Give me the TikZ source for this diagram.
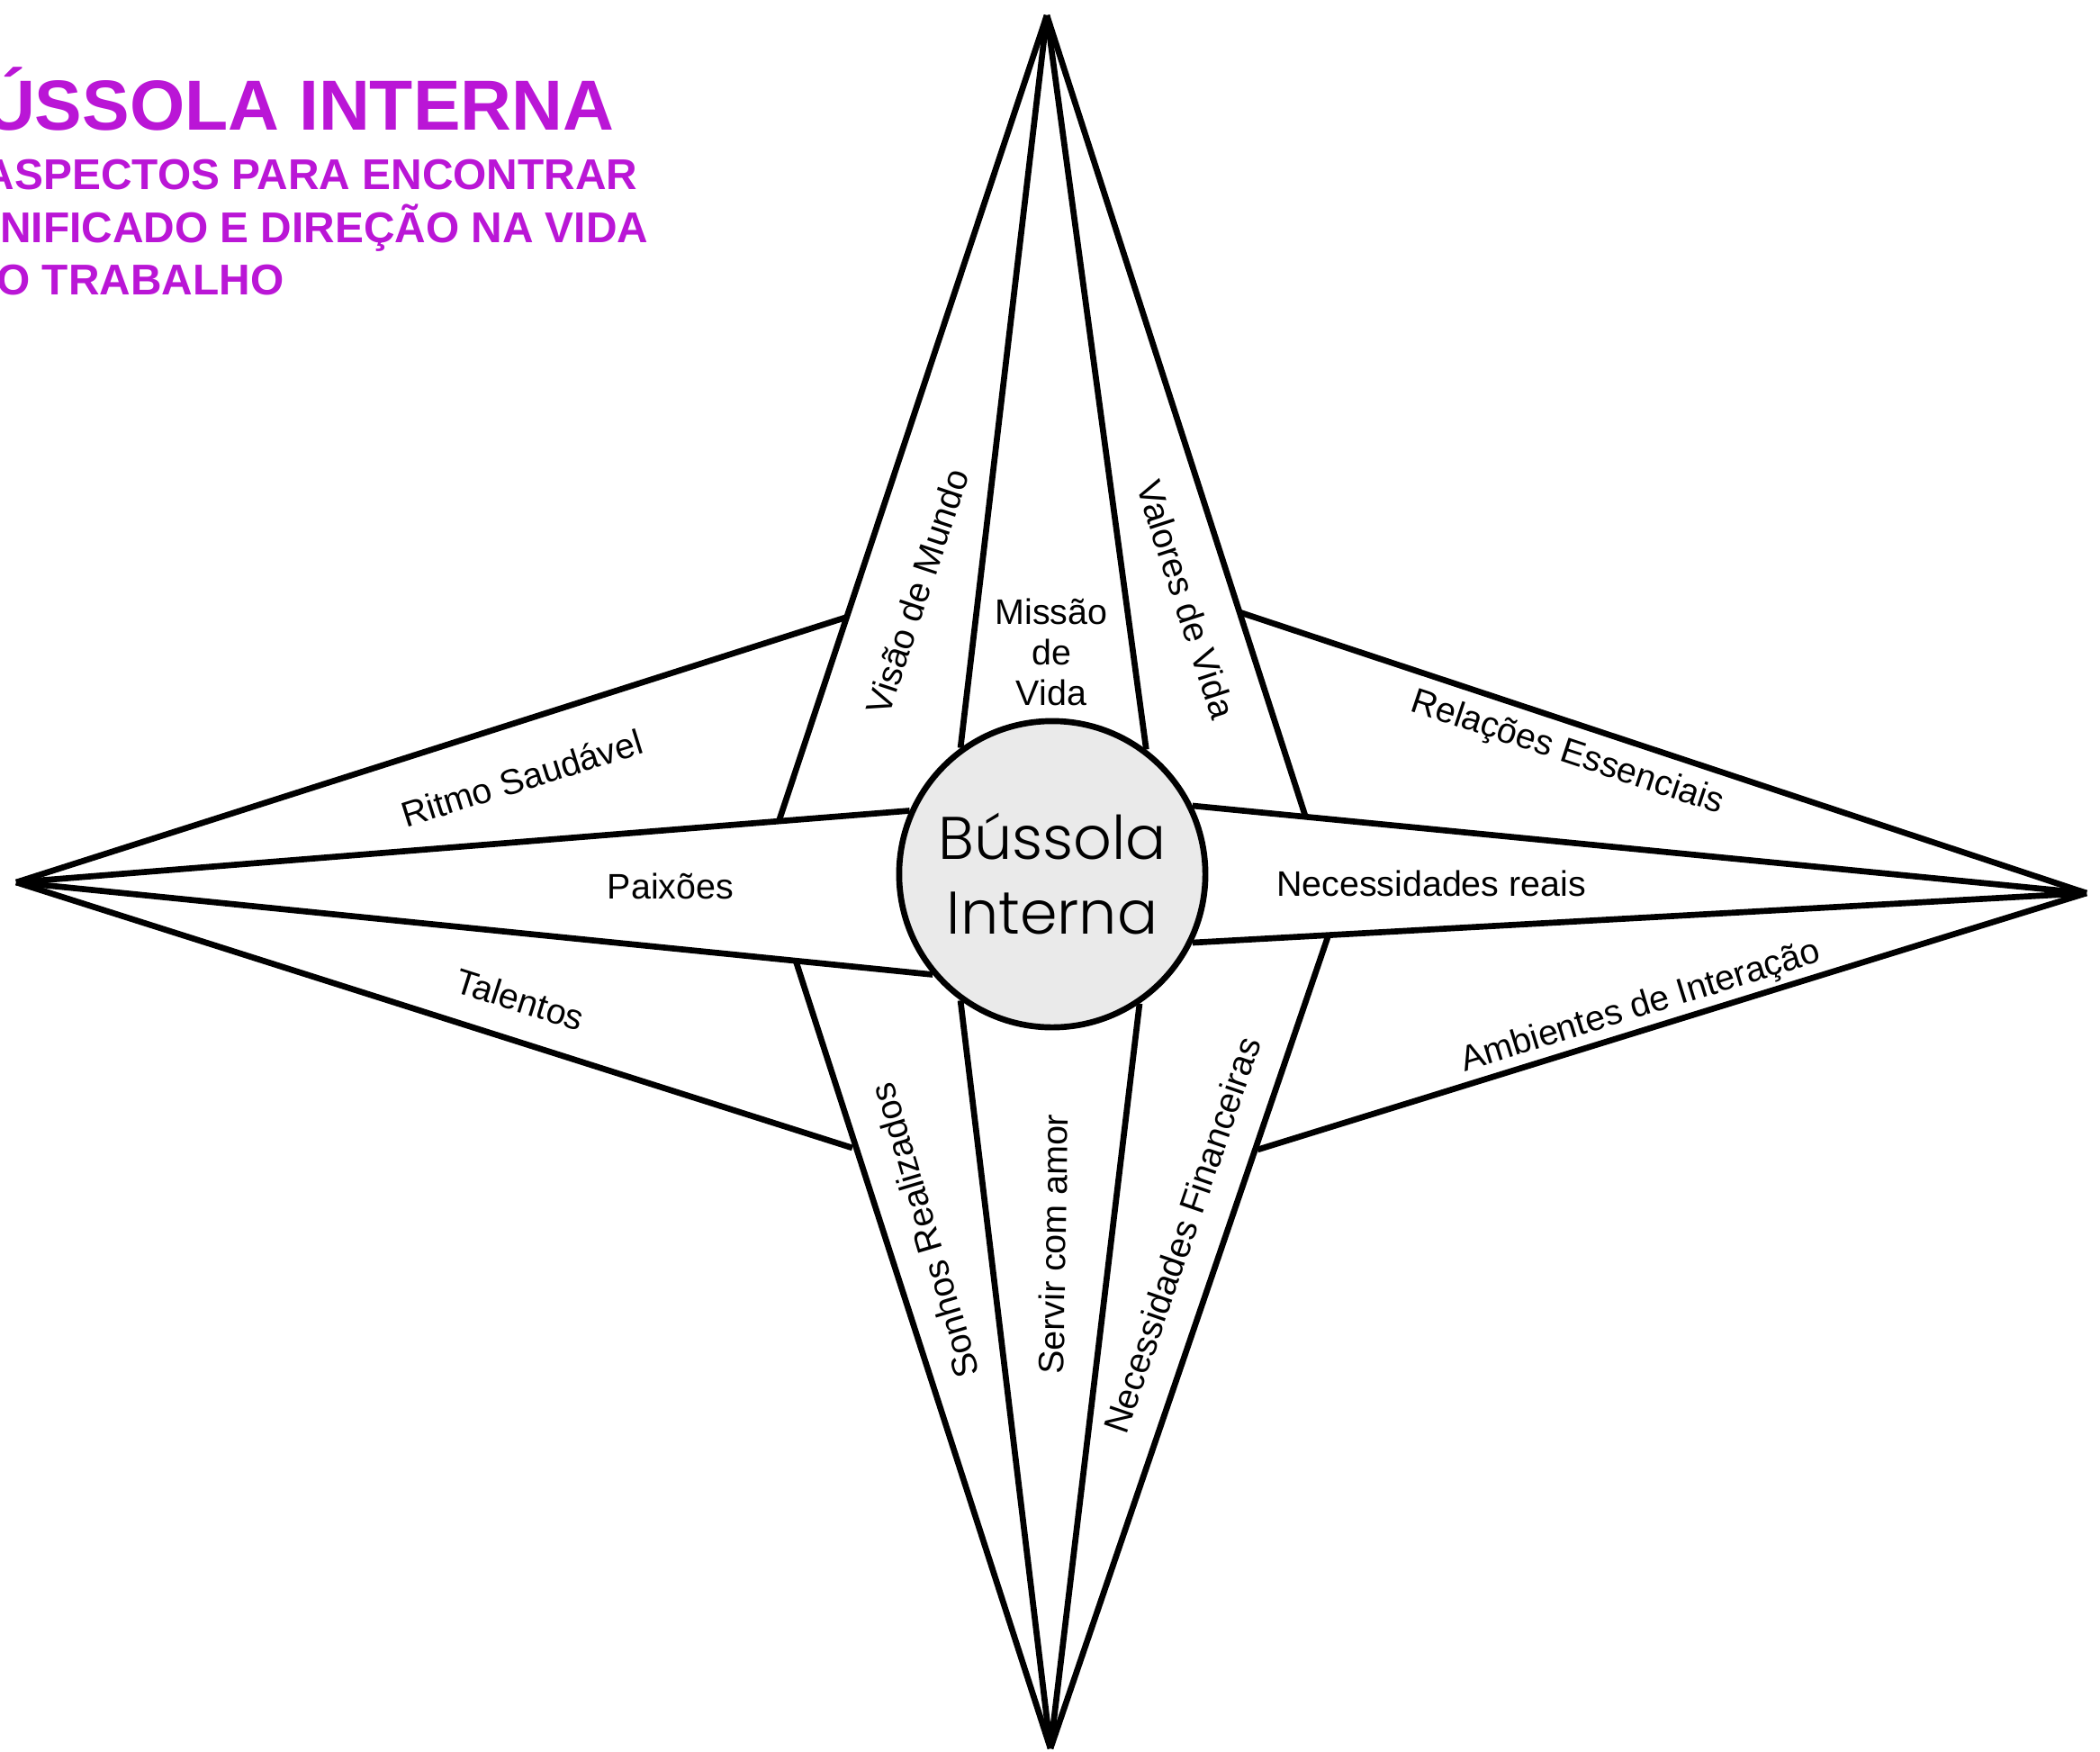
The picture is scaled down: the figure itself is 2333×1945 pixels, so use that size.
\documentclass[tikz,border=0pt]{standalone}
\usepackage{fontspec}
\setmainfont{Liberation Sans}
\newfontfamily\centerfont{Poppins Light}
\definecolor{titlepurple}{RGB}{186,22,214}
\definecolor{circlefill}{RGB}{234,234,234}
\begin{document}
\begin{tikzpicture}[x=0.01cm,y=-0.01cm,
  edge/.style={line width=1.9pt},
  lbl/.style={font=\fontsize{11.2}{12.8}\selectfont, inner sep=0pt},
  ttl/.style={text=titlepurple, inner sep=0pt, anchor=base east}]
\useasboundingbox (0,0) rectangle (2333,1945);

% title
\node[ttl, font=\bfseries\fontsize{22.4}{26}\selectfont] (t1) at (683,144) {ÚSSOLA INTERNA};
\node[ttl, font=\bfseries\fontsize{13.6}{16}\selectfont] (t2) at (709,210) {ASPECTOS PARA ENCONTRAR};
\node[ttl, font=\bfseries\fontsize{13.6}{16}\selectfont] (t3) at (721,269) {NIFICADO E DIREÇÃO NA VIDA};
\node[ttl, font=\bfseries\fontsize{13.6}{16}\selectfont] (t4) at (316,327) {O TRABALHO};

% tips
\coordinate (T) at (1163,17);
\coordinate (L) at (18,980);
\coordinate (R) at (2318,992);
\coordinate (B) at (1167,1942);
% junctions
\coordinate (P1) at (865,913);
\coordinate (P2) at (1450,906);
\coordinate (P3) at (884,1067);
\coordinate (P4) at (1475,1041);
\coordinate (Q1) at (939,686);
\coordinate (Q2) at (947,1275);
\coordinate (Q3) at (1377,680);
\coordinate (Q4) at (1397,1277);

% center circle
\node[circle, draw, line width=1.9pt, fill=circlefill, minimum size=3.4cm, inner sep=0pt,
      align=center, font=\centerfont\fontsize{19}{23.6}\selectfont] (c) at (1169,971) {Bússola\\Interna};

% top spike
\draw[edge] (T) -- (P1);
\draw[edge] (T) -- (c.126.3);
\draw[edge] (T) -- (c.53.4);
\draw[edge] (T) -- (P2);
% left spike
\draw[edge] (L) -- (Q1);
\draw[edge] (L) -- (c.156.3);
\draw[edge] (L) -- (c.220.3);
\draw[edge] (L) -- (Q2);
% right spike
\draw[edge] (R) -- (Q3);
\draw[edge] (R) -- (c.26.9);
\draw[edge] (R) -- (c.-26.4);
\draw[edge] (R) -- (Q4);
% bottom spike
\draw[edge] (B) -- (P3);
\draw[edge] (B) -- (c.234.6);
\draw[edge] (B) -- (c.304.9);
\draw[edge] (B) -- (P4);

% labels
\node[lbl, rotate=17.5] (l1) at (580,864) {Ritmo Saudável};
\node[lbl, anchor=base] (l2) at (745,998) {Paixões};
\node[lbl, rotate=-17.6] (l3) at (578,1110) {Talentos};
\node[lbl, rotate=71.6] (l4) at (1019,657) {Visão de Mundo};
\node[lbl, align=center, font=\fontsize{11.2}{12.8}\selectfont] (l5) at (1168,724) {Missão\\de\\Vida};
\node[lbl, rotate=-72] (l6) at (1318,666) {Valores de Vida};
\node[lbl, rotate=-18.4] (l7) at (1741,837) {Relações Essenciais};
\node[lbl, anchor=base] (l8) at (1590,995) {Necessidades reais};
\node[lbl, rotate=17.2] (l9) at (1823,1119) {Ambientes de Interação};
\node[lbl, rotate=71] (l10) at (1313,1372) {Necessidades Financeiras};
\node[lbl, rotate=89] (l11) at (1170,1382) {Servir com amor};
\node[lbl, rotate=106.5] (l12) at (1027,1367) {Sonhos Realizados};
\end{tikzpicture}
\end{document}
